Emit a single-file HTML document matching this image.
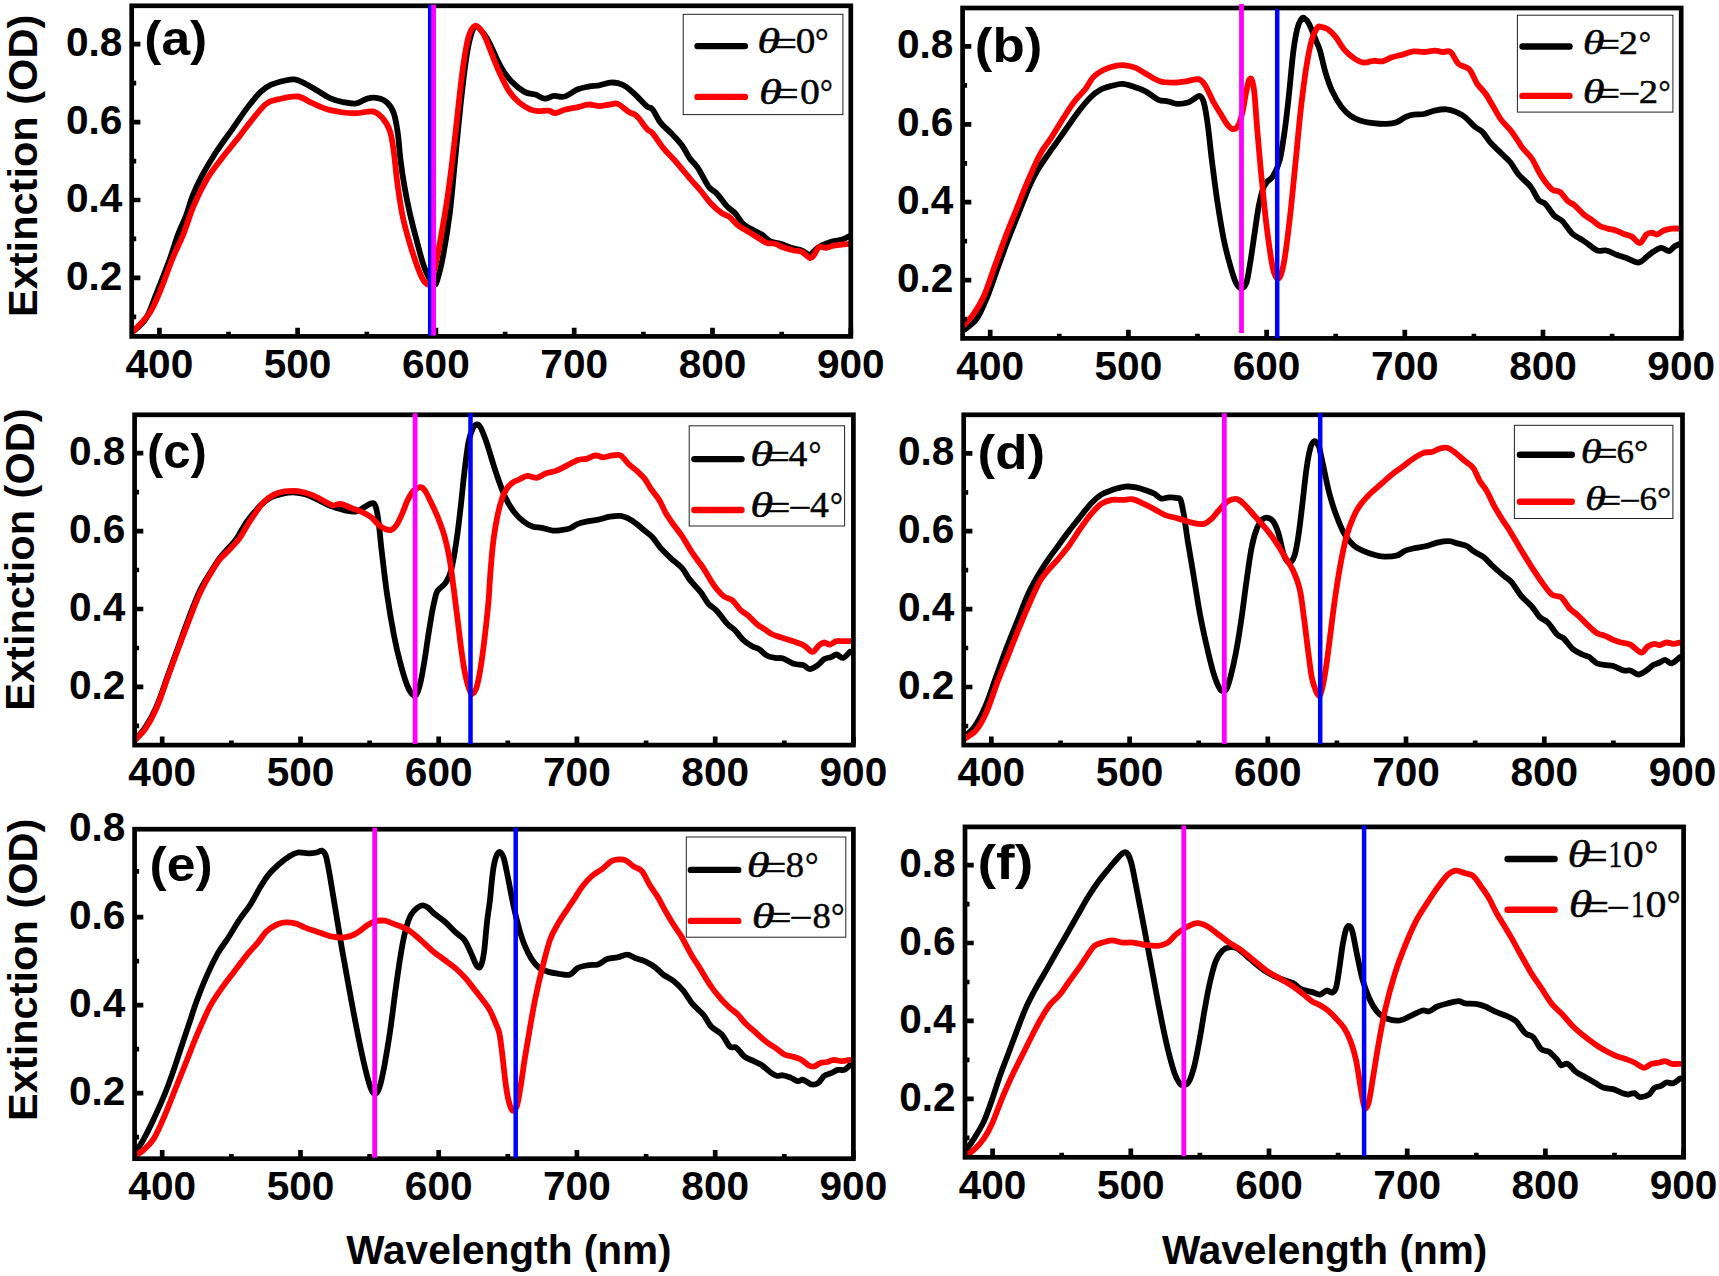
<!DOCTYPE html>
<html lang="en"><head><meta charset="utf-8"><title>Extinction spectra</title>
<style>html,body{margin:0;padding:0;background:#fff}svg{display:block}.t{font-family:"Liberation Sans", Arial, sans-serif;font-weight:bold;fill:#000}.s{font-family:"Liberation Serif", "Times New Roman", serif;fill:#000}.k{fill:none;stroke:#000;stroke-linejoin:round;stroke-linecap:round}.r{fill:none;stroke:#f00;stroke-linejoin:round;stroke-linecap:round}</style></head><body>
<svg width="1719" height="1276" viewBox="0 0 1719 1276">
<rect width="1719" height="1276" fill="#fff"/>
<g id="panel-a">
<clipPath id="cpa"><rect x="131.7" y="5.8" width="719.1" height="330.6"/></clipPath>
<g clip-path="url(#cpa)" stroke-width="5.8">
<path class="k" d="M131.3 333.1C133.8 330.6 141.8 325.1 146.0 318.4C150.2 311.8 152.6 303.1 156.6 293.1C160.6 283.1 166.4 268.2 170.0 258.5C173.5 248.7 175.3 241.6 178.0 234.5C180.6 227.4 183.5 222.3 186.0 215.8C188.4 209.4 190.0 202.5 192.6 195.9C195.3 189.2 198.2 183.0 201.9 175.9C205.7 168.8 210.4 160.8 215.3 153.2C220.2 145.7 225.9 138.1 231.3 130.6C236.6 123.0 242.4 114.4 247.2 107.9C252.1 101.5 256.6 95.8 260.6 91.9C264.6 88.1 267.2 86.6 271.2 84.7C275.2 82.9 280.8 81.6 284.6 80.7C288.3 79.9 290.8 79.1 293.9 79.4C297.0 79.7 299.4 80.8 303.2 82.6C307.0 84.4 312.1 87.5 316.5 90.1C321.0 92.6 325.4 96.1 329.9 98.1C334.3 100.1 338.7 101.2 343.2 102.1C347.6 102.9 352.5 104.0 356.5 103.4C360.5 102.8 363.6 99.5 367.2 98.6C370.7 97.7 374.5 97.4 377.8 98.1C381.1 98.7 384.5 100.1 387.1 102.6C389.8 105.1 392.0 108.1 393.8 113.2C395.6 118.4 396.7 125.5 397.8 133.2C398.9 141.0 399.4 151.0 400.5 159.9C401.6 168.8 402.9 177.6 404.5 186.5C406.0 195.4 407.8 204.3 409.8 213.2C411.8 222.1 414.2 231.4 416.5 239.8C418.7 248.3 420.9 257.1 423.1 263.8C425.3 270.5 428.0 276.4 429.8 279.8C431.6 283.2 432.6 284.1 433.8 284.3C435.0 284.5 435.4 285.9 437.0 281.1C438.5 276.4 441.0 267.1 443.1 255.8C445.2 244.5 447.8 229.2 449.8 213.2C451.8 197.2 453.3 177.6 455.1 159.9C456.9 142.1 458.6 123.0 460.4 106.6C462.2 90.2 464.0 73.3 465.8 61.3C467.5 49.3 469.3 40.4 471.1 34.6C472.9 28.9 474.2 26.6 476.4 26.6C478.6 26.6 482.1 31.8 484.4 34.6C486.7 37.5 487.3 38.6 490.0 44.0C492.7 49.3 497.1 60.4 500.7 66.6C504.2 72.8 507.3 77.1 511.3 81.3C515.3 85.5 520.6 89.7 524.6 91.9C528.6 94.2 532.0 93.5 535.3 94.6C538.6 95.7 541.5 98.4 544.6 98.6C547.7 98.8 550.6 96.3 554.0 95.9C557.3 95.6 560.6 97.6 564.6 96.5C568.6 95.4 573.9 90.9 577.9 89.3C581.9 87.6 585.0 87.3 588.6 86.6C592.1 85.9 595.7 85.9 599.3 85.3C602.8 84.6 606.8 83.0 609.9 82.6C613.0 82.3 615.2 82.5 617.9 83.1C620.6 83.8 622.8 84.5 625.9 86.6C629.0 88.7 633.0 92.6 636.6 95.9C640.1 99.3 644.6 104.4 647.2 106.6C649.9 108.8 650.3 106.6 652.5 109.3C654.8 111.9 657.4 118.6 660.5 122.6C663.6 126.6 667.6 129.5 671.2 133.2C674.8 137.0 678.7 141.0 681.9 145.2C685.0 149.4 687.2 154.8 689.9 158.5C692.5 162.3 694.7 163.2 697.8 167.9C701.0 172.5 705.4 182.3 708.5 186.5C711.6 190.7 713.4 189.9 716.5 193.2C719.6 196.5 724.0 203.2 727.2 206.5C730.3 209.8 732.5 210.3 735.2 213.2C737.8 216.1 740.0 220.9 743.1 223.8C746.3 226.7 750.7 228.7 753.8 230.5C756.9 232.3 759.1 232.7 761.8 234.5C764.5 236.3 766.7 239.6 769.8 241.2C772.9 242.7 776.9 242.7 780.5 243.8C784.0 244.9 787.6 246.7 791.1 247.8C794.7 248.9 798.7 249.4 801.8 250.5C804.9 251.6 807.1 254.9 809.8 254.5C812.4 254.0 815.1 249.6 817.8 247.8C820.4 246.0 823.1 244.9 825.8 243.8C828.4 242.7 831.1 241.8 833.7 241.2C836.4 240.5 839.0 240.7 841.7 239.8C844.4 238.9 848.6 236.5 850.0 235.8"/>
<path class="r" d="M131.3 333.1C134.2 330.0 144.0 321.1 148.7 314.4C153.3 307.8 155.3 302.4 159.3 293.1C163.3 283.8 168.6 268.2 172.6 258.5C176.6 248.7 179.7 243.4 183.3 234.5C186.8 225.6 190.0 214.5 194.0 205.2C197.9 195.9 202.8 186.1 207.3 178.5C211.7 171.0 215.7 166.3 220.6 159.9C225.5 153.4 231.7 146.1 236.6 139.9C241.5 133.7 245.0 128.6 249.9 122.6C254.8 116.6 261.0 107.8 265.9 103.9C270.8 100.0 273.9 100.4 279.2 99.1C284.6 97.9 292.5 95.9 297.9 96.5C303.2 97.0 306.3 100.5 311.2 102.6C316.1 104.7 321.9 107.6 327.2 109.3C332.5 110.9 338.3 111.8 343.2 112.5C348.1 113.1 351.6 113.4 356.5 113.2C361.4 113.1 368.3 110.7 372.5 111.4C376.7 112.1 378.9 114.0 381.8 117.2C384.7 120.4 387.8 124.8 389.8 130.6C391.8 136.3 392.5 142.6 393.8 151.9C395.1 161.2 396.2 175.4 397.8 186.5C399.4 197.6 400.9 208.3 403.1 218.5C405.4 228.7 408.2 238.5 411.1 247.8C414.0 257.1 417.8 268.4 420.5 274.5C423.1 280.5 425.4 283.4 427.1 284.3C428.8 285.2 429.2 282.8 430.6 279.8C431.9 276.8 433.5 273.1 435.1 266.5C436.8 259.8 438.4 250.9 440.4 239.8C442.4 228.7 445.1 213.2 447.1 199.9C449.1 186.5 450.7 174.5 452.4 159.9C454.2 145.2 456.0 127.5 457.8 111.9C459.5 96.4 461.3 79.1 463.1 66.6C464.9 54.2 466.4 44.1 468.4 37.3C470.4 30.5 472.6 26.5 475.1 25.8C477.5 25.2 480.6 29.4 483.1 33.3C485.6 37.2 487.5 43.3 490.0 49.3C492.5 55.3 494.9 62.4 498.0 69.3C501.1 76.2 505.1 85.0 508.7 90.6C512.2 96.2 515.8 99.5 519.3 102.6C522.9 105.7 526.9 107.8 530.0 109.3C533.1 110.7 534.9 110.9 538.0 111.1C541.1 111.3 545.7 110.2 548.6 110.6C551.5 110.9 552.6 113.4 555.3 113.2C557.9 113.1 560.8 110.8 564.6 109.8C568.4 108.8 573.9 108.0 577.9 107.1C581.9 106.2 585.0 104.6 588.6 104.5C592.1 104.3 595.7 106.1 599.3 106.1C602.8 106.1 606.8 104.8 609.9 104.5C613.0 104.1 614.8 102.7 617.9 103.9C621.0 105.2 625.5 109.9 628.6 111.9C631.7 113.9 633.4 113.0 636.6 115.9C639.7 118.8 644.6 126.4 647.2 129.2C649.9 132.1 649.9 130.1 652.5 133.2C655.2 136.3 659.2 143.0 663.2 147.9C667.2 152.8 672.1 157.4 676.5 162.5C681.0 167.7 685.9 173.9 689.9 178.5C693.8 183.2 697.0 186.3 700.5 190.5C704.1 194.7 707.6 200.1 711.2 203.8C714.7 207.6 718.7 211.0 721.8 213.2C724.9 215.4 727.2 215.2 729.8 217.2C732.5 219.2 734.7 222.7 737.8 225.2C740.9 227.6 744.9 229.6 748.5 231.8C752.0 234.0 756.0 236.6 759.1 238.5C762.2 240.4 764.5 242.1 767.1 243.0C769.8 243.9 772.5 243.1 775.1 243.8C777.8 244.5 780.0 246.2 783.1 247.3C786.2 248.4 790.7 249.7 793.8 250.5C796.9 251.2 799.1 250.6 801.8 251.8C804.4 253.1 807.8 257.4 809.8 257.9C811.8 258.5 812.2 257.1 813.8 255.3C815.3 253.5 817.1 248.5 819.1 247.3C821.1 246.0 823.3 248.1 825.8 247.8C828.2 247.5 831.1 246.2 833.7 245.7C836.4 245.2 839.0 244.9 841.7 244.6C844.4 244.3 848.6 244.0 850.0 243.8"/>
</g>
<path d="M159.4 336.4V327.7M297.6 336.4V327.7M435.9 336.4V327.7M574.2 336.4V327.7M712.5 336.4V327.7M850.8 336.4V327.7M228.5 336.4V331.8M366.8 336.4V331.8M505.1 336.4V331.8M643.4 336.4V331.8M781.7 336.4V331.8M131.7 277.9H140.4M131.7 200.0H140.4M131.7 122.1H140.4M131.7 44.2H140.4M131.7 316.9H136.2M131.7 238.9H136.2M131.7 161.1H136.2M131.7 83.2H136.2" stroke="#000" stroke-width="4.7" fill="none"/>
<rect x="131.7" y="5.8" width="719.1" height="330.6" fill="none" stroke="#000" stroke-width="4.7"/>
<path d="M430.2 4.7V335.4" stroke="#00f" stroke-width="4.5"/>
<path d="M433.6 4.7V335.4" stroke="#f0f" stroke-width="4.8"/>
<text class="t" x="159.4" y="377.7" font-size="40.6" text-anchor="middle">400</text>
<text class="t" x="297.6" y="377.7" font-size="40.6" text-anchor="middle">500</text>
<text class="t" x="435.9" y="377.7" font-size="40.6" text-anchor="middle">600</text>
<text class="t" x="574.2" y="377.7" font-size="40.6" text-anchor="middle">700</text>
<text class="t" x="712.5" y="377.7" font-size="40.6" text-anchor="middle">800</text>
<text class="t" x="850.8" y="377.7" font-size="40.6" text-anchor="middle">900</text>
<text class="t" x="122.4" y="289.7" font-size="40.6" text-anchor="end">0.2</text>
<text class="t" x="122.4" y="211.8" font-size="40.6" text-anchor="end">0.4</text>
<text class="t" x="122.4" y="133.9" font-size="40.6" text-anchor="end">0.6</text>
<text class="t" x="122.4" y="56.0" font-size="40.6" text-anchor="end">0.8</text>
<text class="t" font-size="48" transform="translate(144.28 54.9) scale(1.0741 1)">(a)</text>
<rect x="683.2" y="14.3" width="159.7" height="100.3" fill="#fff" stroke="#222" stroke-width="1"/>
<path class="k" d="M697.5 46.1H744.9" stroke-width="6.4"/>
<path class="r" d="M697.5 96.9H744.9" stroke-width="6.4"/>
<text class="s" font-size="36.0" stroke="#000" stroke-width="0.45"><tspan font-style="italic" x="757.37" y="53.2" textLength="22.93" lengthAdjust="spacingAndGlyphs">θ</tspan><tspan x="773.85" y="55.6" textLength="23.17" lengthAdjust="spacingAndGlyphs">=</tspan><tspan x="795.83" y="53.2" textLength="19.64" lengthAdjust="spacingAndGlyphs">0</tspan><tspan x="815.10" y="53.2" textLength="13.60" lengthAdjust="spacingAndGlyphs">°</tspan></text>
<text class="s" font-size="36.0" stroke="#000" stroke-width="0.45"><tspan font-style="italic" x="758.97" y="103.8" textLength="22.93" lengthAdjust="spacingAndGlyphs">θ</tspan><tspan x="775.45" y="106.2" textLength="23.17" lengthAdjust="spacingAndGlyphs">=</tspan><tspan x="800.01" y="103.8" textLength="19.88" lengthAdjust="spacingAndGlyphs">0</tspan><tspan x="819.90" y="103.8" textLength="12.80" lengthAdjust="spacingAndGlyphs">°</tspan></text>
</g>
</g>
<g id="panel-b">
<clipPath id="cpb"><rect x="962.6" y="8.0" width="718.6" height="330.4"/></clipPath>
<g clip-path="url(#cpb)" stroke-width="5.8">
<path class="k" d="M961.3 331.8C963.8 329.8 971.8 325.3 976.0 319.8C980.2 314.2 983.1 306.9 986.6 298.4C990.2 290.0 993.8 278.9 997.3 269.1C1000.9 259.4 1004.4 249.1 1008.0 239.8C1011.5 230.5 1015.1 222.1 1018.6 213.2C1022.2 204.3 1026.2 193.6 1029.3 186.5C1032.4 179.4 1034.2 175.9 1037.3 170.5C1040.4 165.2 1043.9 160.3 1047.9 154.6C1051.9 148.8 1056.4 142.8 1061.3 135.9C1066.1 129.0 1072.4 119.7 1077.2 113.2C1082.1 106.8 1086.6 101.3 1090.6 97.3C1094.6 93.3 1097.7 91.2 1101.2 89.3C1104.8 87.4 1108.3 86.7 1111.9 85.8C1115.4 84.9 1119.0 83.8 1122.5 83.9C1126.1 84.1 1129.2 85.3 1133.2 86.6C1137.2 87.9 1142.3 89.7 1146.5 91.9C1150.7 94.2 1155.0 98.4 1158.5 99.9C1162.1 101.5 1164.7 100.6 1167.8 101.3C1171.0 101.9 1173.8 103.7 1177.2 103.9C1180.5 104.1 1184.9 103.5 1187.8 102.6C1190.7 101.7 1192.5 99.7 1194.5 98.6C1196.5 97.5 1198.3 95.3 1199.8 95.9C1201.4 96.6 1202.5 97.7 1203.8 102.6C1205.2 107.5 1206.5 115.7 1207.8 125.2C1209.1 134.8 1210.3 147.4 1211.8 159.9C1213.4 172.3 1215.1 186.5 1217.1 199.9C1219.1 213.2 1221.6 228.7 1223.8 239.8C1226.0 250.9 1228.5 259.4 1230.5 266.5C1232.5 273.6 1234.0 278.8 1235.8 282.5C1237.6 286.1 1239.3 288.3 1241.1 288.3C1242.9 288.3 1244.9 287.0 1246.5 282.5C1248.0 277.9 1249.1 269.1 1250.5 261.1C1251.8 253.1 1253.1 243.4 1254.4 234.5C1255.8 225.6 1257.1 215.2 1258.4 207.8C1259.8 200.5 1261.1 194.7 1262.4 190.5C1263.8 186.3 1264.7 185.0 1266.4 182.5C1268.2 180.1 1270.9 179.6 1273.1 175.9C1275.3 172.1 1277.8 167.9 1279.8 159.9C1281.8 151.9 1283.5 139.0 1285.1 127.9C1286.6 116.8 1287.8 105.7 1289.1 93.3C1290.4 80.8 1291.8 64.0 1293.1 53.3C1294.4 42.6 1295.8 35.0 1297.1 29.3C1298.4 23.6 1299.9 21.1 1301.1 19.2C1302.3 17.3 1302.9 17.3 1304.3 18.1C1305.6 18.9 1307.2 20.3 1309.1 24.0C1311.0 27.6 1313.9 35.5 1315.7 40.0C1317.6 44.4 1318.4 45.3 1320.0 50.6C1321.6 56.0 1323.3 65.3 1325.3 71.9C1327.3 78.6 1329.3 84.8 1332.0 90.6C1334.7 96.4 1338.2 102.4 1341.3 106.6C1344.4 110.8 1347.5 113.6 1350.6 115.9C1353.8 118.2 1356.2 119.2 1360.0 120.4C1363.7 121.6 1368.9 122.5 1373.3 123.1C1377.7 123.7 1382.8 124.0 1386.6 123.9C1390.4 123.8 1392.8 123.7 1395.9 122.6C1399.1 121.5 1402.4 118.6 1405.3 117.2C1408.2 115.9 1410.2 115.1 1413.3 114.6C1416.4 114.0 1420.4 114.7 1423.9 114.0C1427.5 113.4 1430.8 111.4 1434.6 110.6C1438.4 109.8 1443.0 109.0 1446.6 109.3C1450.1 109.5 1452.8 110.6 1455.9 111.9C1459.0 113.2 1462.1 114.8 1465.2 117.2C1468.3 119.7 1471.7 124.1 1474.6 126.6C1477.4 129.0 1479.9 129.2 1482.5 131.9C1485.2 134.6 1487.4 139.0 1490.5 142.6C1493.6 146.1 1497.9 149.9 1501.2 153.2C1504.5 156.6 1507.6 159.0 1510.5 162.5C1513.4 166.1 1515.2 170.5 1518.5 174.5C1521.9 178.5 1527.2 182.3 1530.5 186.5C1533.8 190.7 1536.1 197.0 1538.5 199.9C1540.9 202.7 1542.5 201.2 1545.2 203.8C1547.8 206.5 1551.6 213.0 1554.5 215.8C1557.4 218.7 1559.6 218.3 1562.5 221.2C1565.4 224.1 1568.9 230.3 1571.8 233.2C1574.7 236.0 1577.1 236.7 1579.8 238.5C1582.5 240.3 1584.9 241.8 1587.8 243.8C1590.7 245.8 1594.0 249.4 1597.1 250.5C1600.2 251.6 1603.3 249.8 1606.5 250.5C1609.6 251.1 1612.5 253.2 1615.8 254.5C1619.1 255.7 1622.7 256.6 1626.4 257.9C1630.2 259.3 1635.1 262.6 1638.4 262.5C1641.8 262.3 1644.0 258.9 1646.4 257.1C1648.9 255.4 1650.6 253.4 1653.1 251.8C1655.5 250.3 1658.4 247.9 1661.1 247.8C1663.7 247.7 1666.9 251.2 1669.1 251.0C1671.3 250.8 1672.6 247.7 1674.4 246.5C1676.2 245.3 1679.1 244.3 1680.0 243.8"/>
<path class="r" d="M961.3 327.8C963.3 325.5 969.5 319.8 973.3 314.4C977.1 309.1 980.4 303.8 984.0 295.8C987.5 287.8 991.1 276.2 994.6 266.5C998.2 256.7 1001.7 246.5 1005.3 237.2C1008.9 227.8 1012.4 219.4 1016.0 210.5C1019.5 201.6 1022.6 193.2 1026.6 183.9C1030.6 174.5 1035.9 162.1 1039.9 154.6C1043.9 147.0 1046.6 144.8 1050.6 138.6C1054.6 132.3 1059.9 123.5 1063.9 117.2C1067.9 111.0 1071.0 105.9 1074.6 101.3C1078.1 96.6 1082.1 93.3 1085.2 89.3C1088.3 85.3 1090.1 80.5 1093.2 77.3C1096.3 74.0 1100.3 71.7 1103.9 69.8C1107.4 67.9 1111.0 66.8 1114.6 66.1C1118.1 65.3 1121.7 65.0 1125.2 65.3C1128.8 65.6 1132.3 66.5 1135.9 67.9C1139.4 69.4 1142.5 71.9 1146.5 74.1C1150.5 76.3 1155.4 79.9 1159.9 81.3C1164.3 82.7 1168.7 82.6 1173.2 82.6C1177.6 82.6 1182.3 81.9 1186.5 81.3C1190.7 80.7 1195.4 78.5 1198.5 79.1C1201.6 79.8 1202.7 81.6 1205.2 85.3C1207.6 89.0 1210.5 96.4 1213.1 101.3C1215.8 106.1 1218.7 110.6 1221.1 114.6C1223.6 118.6 1225.8 122.8 1227.8 125.2C1229.8 127.7 1231.4 129.2 1233.1 129.2C1234.9 129.2 1236.9 128.1 1238.5 125.2C1240.0 122.4 1241.1 117.7 1242.5 111.9C1243.8 106.1 1245.3 95.9 1246.5 90.6C1247.6 85.3 1248.2 81.7 1249.1 79.9C1250.0 78.2 1250.9 77.7 1251.8 79.9C1252.7 82.2 1253.6 85.3 1254.4 93.3C1255.3 101.3 1256.0 114.6 1257.1 127.9C1258.2 141.2 1259.8 159.0 1261.1 173.2C1262.4 187.4 1263.8 201.2 1265.1 213.2C1266.4 225.2 1267.8 235.8 1269.1 245.2C1270.4 254.5 1271.8 263.6 1273.1 269.1C1274.4 274.7 1275.8 277.6 1277.1 278.5C1278.4 279.3 1279.8 278.2 1281.1 274.5C1282.4 270.7 1283.5 266.0 1285.1 255.8C1286.6 245.6 1288.6 229.2 1290.4 213.2C1292.2 197.2 1294.0 177.6 1295.8 159.9C1297.5 142.1 1299.3 122.1 1301.1 106.6C1302.9 91.0 1304.6 77.7 1306.4 66.6C1308.2 55.5 1310.0 46.4 1311.7 40.0C1313.5 33.5 1315.7 30.2 1317.1 28.0C1318.4 25.8 1318.2 26.4 1320.0 26.6C1321.8 26.9 1325.3 27.5 1328.0 29.3C1330.7 31.1 1333.3 34.0 1336.0 37.3C1338.7 40.6 1340.9 45.7 1344.0 49.3C1347.1 52.8 1351.3 56.4 1354.6 58.6C1358.0 60.8 1360.9 62.3 1364.0 62.6C1367.1 63.0 1370.2 61.0 1373.3 60.8C1376.4 60.5 1379.5 61.9 1382.6 61.3C1385.7 60.7 1388.6 58.4 1391.9 57.3C1395.3 56.2 1399.1 55.6 1402.6 54.6C1406.2 53.6 1409.7 51.9 1413.3 51.4C1416.8 51.0 1420.4 52.1 1423.9 52.0C1427.5 51.8 1431.5 50.6 1434.6 50.6C1437.7 50.6 1439.9 51.7 1442.6 52.0C1445.2 52.2 1447.9 50.0 1450.6 52.0C1453.2 54.0 1455.5 61.1 1458.6 64.0C1461.7 66.8 1466.1 66.0 1469.2 69.3C1472.3 72.6 1474.6 79.9 1477.2 83.9C1479.9 87.9 1482.5 89.5 1485.2 93.3C1487.9 97.0 1490.5 102.1 1493.2 106.6C1495.9 111.0 1498.1 115.7 1501.2 119.9C1504.3 124.1 1508.3 127.2 1511.9 131.9C1515.4 136.6 1519.2 143.4 1522.5 147.9C1525.8 152.3 1528.7 153.9 1531.8 158.5C1535.0 163.2 1537.8 170.8 1541.2 175.9C1544.5 181.0 1548.7 186.5 1551.8 189.2C1554.9 191.9 1557.2 189.9 1559.8 191.9C1562.5 193.9 1565.4 199.0 1567.8 201.2C1570.3 203.4 1571.8 203.0 1574.5 205.2C1577.1 207.4 1580.9 212.1 1583.8 214.5C1586.7 217.0 1589.1 217.9 1591.8 219.8C1594.5 221.7 1597.1 224.5 1599.8 226.0C1602.5 227.4 1605.1 227.9 1607.8 228.6C1610.5 229.4 1613.1 229.6 1615.8 230.5C1618.4 231.4 1621.1 232.9 1623.8 234.0C1626.4 235.0 1629.1 235.1 1631.8 236.6C1634.4 238.1 1637.3 243.4 1639.8 243.0C1642.2 242.7 1644.4 236.2 1646.4 234.5C1648.4 232.8 1650.0 232.6 1651.8 232.6C1653.5 232.6 1655.1 234.8 1657.1 234.5C1659.1 234.1 1661.3 231.5 1663.7 230.5C1666.2 229.5 1669.0 228.9 1671.7 228.6C1674.4 228.3 1678.6 228.6 1680.0 228.6"/>
</g>
<path d="M990.2 338.4V329.7M1128.4 338.4V329.7M1266.6 338.4V329.7M1404.8 338.4V329.7M1543.0 338.4V329.7M1681.2 338.4V329.7M1059.3 338.4V333.8M1197.5 338.4V333.8M1335.7 338.4V333.8M1473.9 338.4V333.8M1612.1 338.4V333.8M962.6 280.1H971.3M962.6 202.2H971.3M962.6 124.3H971.3M962.6 46.4H971.3M962.6 319.1H967.1M962.6 241.2H967.1M962.6 163.3H967.1M962.6 85.4H967.1" stroke="#000" stroke-width="4.7" fill="none"/>
<rect x="962.6" y="8.0" width="718.6" height="330.4" fill="none" stroke="#000" stroke-width="4.7"/>
<path d="M1241.5 4.0V333.0" stroke="#f0f" stroke-width="4.8"/>
<path d="M1277.2 9.3V338.0" stroke="#00f" stroke-width="4.5"/>
<text class="t" x="990.2" y="379.7" font-size="40.6" text-anchor="middle">400</text>
<text class="t" x="1128.4" y="379.7" font-size="40.6" text-anchor="middle">500</text>
<text class="t" x="1266.6" y="379.7" font-size="40.6" text-anchor="middle">600</text>
<text class="t" x="1404.8" y="379.7" font-size="40.6" text-anchor="middle">700</text>
<text class="t" x="1543.0" y="379.7" font-size="40.6" text-anchor="middle">800</text>
<text class="t" x="1681.2" y="379.7" font-size="40.6" text-anchor="middle">900</text>
<text class="t" x="953.3" y="291.9" font-size="40.6" text-anchor="end">0.2</text>
<text class="t" x="953.3" y="214.0" font-size="40.6" text-anchor="end">0.4</text>
<text class="t" x="953.3" y="136.1" font-size="40.6" text-anchor="end">0.6</text>
<text class="t" x="953.3" y="58.2" font-size="40.6" text-anchor="end">0.8</text>
<text class="t" font-size="48" transform="translate(974.81 62.0) scale(1.1000 1)">(b)</text>
<rect x="1517.4" y="15.2" width="155.5" height="96.9" fill="#fff" stroke="#222" stroke-width="1"/>
<path class="k" d="M1522.5 46.5H1569.5" stroke-width="6.4"/>
<path class="r" d="M1522.5 95.9H1569.5" stroke-width="6.4"/>
<text class="s" font-size="34.5" stroke="#000" stroke-width="0.45"><tspan font-style="italic" x="1582.79" y="53.7" textLength="21.76" lengthAdjust="spacingAndGlyphs">θ</tspan><tspan x="1598.82" y="56.1" textLength="21.23" lengthAdjust="spacingAndGlyphs">=</tspan><tspan x="1618.87" y="53.7" textLength="19.25" lengthAdjust="spacingAndGlyphs">2</tspan><tspan x="1638.87" y="53.7" textLength="12.27" lengthAdjust="spacingAndGlyphs">°</tspan></text>
<text class="s" font-size="34.5" stroke="#000" stroke-width="0.45"><tspan font-style="italic" x="1582.79" y="102.9" textLength="21.76" lengthAdjust="spacingAndGlyphs">θ</tspan><tspan x="1598.82" y="105.3" textLength="21.23" lengthAdjust="spacingAndGlyphs">=</tspan><tspan x="1618.16" y="105.3" textLength="21.83" lengthAdjust="spacingAndGlyphs">−</tspan><tspan x="1638.66" y="102.9" textLength="19.37" lengthAdjust="spacingAndGlyphs">2</tspan><tspan x="1658.38" y="102.9" textLength="12.13" lengthAdjust="spacingAndGlyphs">°</tspan></text>
</g>
</g>
<g id="panel-c">
<clipPath id="cpc"><rect x="134.6" y="414.8" width="718.8" height="330.3"/></clipPath>
<g clip-path="url(#cpc)" stroke-width="5.8">
<path class="k" d="M135.3 739.8C137.1 737.5 142.4 732.0 146.0 726.4C149.5 720.9 153.1 714.7 156.6 706.4C160.2 698.2 163.8 686.9 167.3 677.1C170.9 667.4 174.4 657.6 178.0 647.8C181.5 638.1 185.1 627.8 188.6 618.5C192.2 609.2 195.7 599.4 199.3 591.9C202.8 584.3 206.6 578.8 209.9 573.2C213.3 567.7 216.2 562.8 219.3 558.6C222.4 554.3 225.7 551.2 228.6 547.9C231.5 544.6 233.5 543.0 236.6 538.6C239.7 534.1 243.2 526.8 247.2 521.2C251.2 515.7 256.6 509.3 260.6 505.3C264.6 501.3 267.7 499.2 271.2 497.3C274.8 495.4 277.9 494.6 281.9 493.8C285.9 493.0 291.2 492.3 295.2 492.5C299.2 492.6 302.3 493.5 305.9 494.6C309.4 495.7 313.0 497.5 316.5 499.1C320.1 500.8 323.9 503.0 327.2 504.5C330.5 505.9 333.4 506.9 336.5 507.9C339.6 508.9 342.5 510.0 345.8 510.6C349.2 511.2 353.4 512.0 356.5 511.4C359.6 510.8 362.1 508.5 364.5 507.1C366.9 505.8 369.4 503.7 371.2 503.4C372.9 503.1 374.0 502.5 375.2 505.3C376.4 508.0 377.2 512.1 378.3 519.9C379.5 527.7 380.3 539.5 381.8 551.9C383.3 564.3 385.1 580.8 387.1 594.5C389.1 608.3 391.6 623.0 393.8 634.5C396.0 646.0 398.2 655.4 400.5 663.8C402.7 672.2 405.1 680.0 407.1 685.1C409.1 690.2 410.9 692.9 412.5 694.5C414.0 696.0 415.1 696.5 416.5 694.5C417.8 692.5 419.1 688.0 420.5 682.5C421.8 676.9 423.1 669.1 424.4 661.1C425.8 653.2 427.1 642.9 428.4 634.5C429.8 626.1 431.1 617.4 432.4 610.5C433.8 603.6 435.1 597.0 436.4 593.2C437.8 589.4 438.9 589.6 440.4 587.9C442.0 586.1 444.0 585.4 445.8 582.5C447.5 579.7 449.3 577.4 451.1 570.5C452.9 563.7 454.9 551.4 456.4 541.2C458.0 531.0 459.1 520.8 460.4 509.3C461.8 497.7 463.1 483.1 464.4 472.0C465.8 460.8 467.1 449.7 468.4 442.6C469.7 435.5 471.1 432.3 472.4 429.3C473.7 426.3 475.1 424.9 476.4 424.5C477.7 424.2 478.9 424.6 480.4 427.2C482.0 429.8 484.1 435.6 485.7 440.0C487.3 444.3 488.2 447.5 490.0 453.3C491.8 459.1 494.2 467.5 496.7 474.6C499.1 481.7 501.8 489.7 504.7 495.9C507.5 502.2 510.9 507.7 514.0 511.9C517.1 516.1 520.2 518.8 523.3 521.2C526.4 523.7 529.5 525.5 532.6 526.6C535.7 527.7 538.6 527.2 542.0 527.9C545.3 528.6 549.3 530.2 552.6 530.6C556.0 530.9 559.1 530.4 561.9 530.0C564.8 529.7 567.3 529.5 569.9 528.4C572.6 527.4 574.8 525.1 577.9 523.9C581.0 522.7 585.0 522.0 588.6 521.2C592.1 520.5 595.7 520.1 599.3 519.4C602.8 518.6 606.4 517.3 609.9 516.7C613.5 516.1 617.5 515.6 620.6 515.9C623.7 516.2 625.9 517.3 628.6 518.6C631.2 519.9 633.9 521.9 636.6 523.9C639.2 525.9 641.9 528.4 644.6 530.6C647.2 532.8 649.9 534.4 652.5 537.2C655.2 540.1 657.4 544.3 660.5 547.9C663.6 551.4 667.6 555.2 671.2 558.6C674.8 561.9 678.7 564.3 681.9 567.9C685.0 571.4 686.7 575.9 689.9 579.9C693.0 583.9 697.4 587.9 700.5 591.9C703.6 595.9 705.8 600.7 708.5 603.9C711.2 607.0 713.4 607.2 716.5 610.5C719.6 613.8 724.0 620.5 727.2 623.8C730.3 627.2 732.5 627.8 735.2 630.5C737.8 633.2 740.3 637.2 743.1 639.8C746.0 642.5 749.8 644.9 752.5 646.5C755.1 648.0 756.7 647.6 759.1 649.2C761.6 650.7 764.5 654.4 767.1 655.8C769.8 657.3 772.5 657.5 775.1 657.9C777.8 658.4 780.0 657.5 783.1 658.5C786.2 659.5 790.4 662.7 793.8 663.8C797.1 664.9 800.4 664.3 803.1 665.1C805.8 666.0 807.3 669.1 809.8 669.1C812.2 669.1 815.3 666.8 817.8 665.1C820.2 663.5 822.2 660.3 824.4 659.0C826.6 657.7 829.1 657.9 831.1 657.1C833.1 656.4 834.4 654.4 836.4 654.5C838.4 654.6 840.8 658.4 843.1 657.9C845.3 657.5 848.8 652.8 850.0 651.8"/>
<path class="r" d="M135.3 739.8C137.1 737.8 142.4 733.1 146.0 727.8C149.5 722.4 153.1 716.0 156.6 707.8C160.2 699.6 163.8 688.2 167.3 678.5C170.9 668.7 174.4 658.7 178.0 649.2C181.5 639.6 185.1 630.3 188.6 621.2C192.2 612.1 195.7 602.3 199.3 594.5C202.8 586.8 206.6 580.3 209.9 574.5C213.3 568.8 216.2 563.9 219.3 559.9C222.4 555.9 225.3 554.1 228.6 550.6C231.9 547.0 235.7 543.5 239.3 538.6C242.8 533.7 245.9 527.2 249.9 521.2C253.9 515.3 259.2 507.0 263.2 502.6C267.2 498.2 270.3 496.5 273.9 494.6C277.4 492.7 280.6 492.0 284.6 491.4C288.5 490.8 293.4 490.6 297.9 491.1C302.3 491.7 306.8 492.9 311.2 494.6C315.6 496.3 321.0 499.5 324.5 501.3C328.1 503.0 329.9 504.8 332.5 505.3C335.2 505.7 337.4 503.5 340.5 503.9C343.6 504.4 347.6 506.6 351.2 507.9C354.7 509.3 358.5 510.4 361.8 511.9C365.2 513.5 368.3 515.0 371.2 517.3C374.0 519.5 376.7 523.2 379.1 525.2C381.6 527.2 383.8 528.4 385.8 529.2C387.8 530.0 389.4 530.7 391.1 530.0C392.9 529.4 394.7 527.8 396.5 525.2C398.2 522.7 400.0 518.6 401.8 514.6C403.6 510.6 405.4 505.0 407.1 501.3C408.9 497.5 410.7 494.2 412.5 491.9C414.2 489.7 416.2 488.7 417.8 487.9C419.3 487.2 420.5 486.7 421.8 487.4C423.1 488.1 424.2 489.4 425.8 491.9C427.3 494.5 429.1 498.4 431.1 502.6C433.1 506.8 435.6 511.7 437.8 517.3C440.0 522.8 442.4 528.8 444.4 535.9C446.4 543.0 448.2 551.0 449.8 559.9C451.3 568.8 452.4 579.0 453.8 589.2C455.1 599.4 456.4 610.5 457.8 621.2C459.1 631.8 460.4 643.8 461.8 653.2C463.1 662.5 464.4 670.9 465.8 677.1C467.1 683.4 468.6 687.7 469.7 690.5C470.9 693.2 471.3 694.1 472.4 693.7C473.5 693.2 475.1 691.9 476.4 687.8C477.7 683.7 479.1 677.1 480.4 669.1C481.7 661.1 483.1 650.9 484.4 639.8C485.7 628.7 487.5 612.7 488.4 602.5C489.3 592.3 489.3 587.9 490.0 578.5C490.7 569.2 491.6 556.3 492.7 546.6C493.8 536.8 495.1 527.9 496.7 519.9C498.2 511.9 500.2 503.9 502.0 498.6C503.8 493.3 505.5 490.6 507.3 487.9C509.1 485.3 510.7 484.0 512.6 482.6C514.6 481.2 516.9 480.5 519.3 479.4C521.8 478.3 524.4 476.2 527.3 475.9C530.2 475.7 533.5 478.3 536.6 477.8C539.7 477.4 542.6 474.5 546.0 473.3C549.3 472.1 553.1 472.0 556.6 470.6C560.2 469.3 563.7 467.1 567.3 465.3C570.8 463.5 574.6 461.1 577.9 460.0C581.3 458.9 584.4 459.4 587.3 458.6C590.1 457.9 592.6 455.7 595.3 455.4C597.9 455.2 600.4 457.3 603.2 457.3C606.1 457.3 609.7 455.7 612.6 455.4C615.5 455.1 617.9 454.0 620.6 455.4C623.2 456.9 625.9 461.4 628.6 464.0C631.2 466.5 633.9 468.2 636.6 470.6C639.2 473.1 642.1 475.5 644.6 478.6C647.0 481.7 648.8 485.7 651.2 489.3C653.7 492.8 656.8 495.9 659.2 499.9C661.7 503.9 663.4 509.0 665.9 513.3C668.3 517.5 671.2 521.5 673.9 525.2C676.5 529.0 678.7 531.2 681.9 535.9C685.0 540.6 689.0 547.9 692.5 553.2C696.1 558.6 699.6 562.6 703.2 567.9C706.7 573.2 710.5 580.5 713.8 585.2C717.2 589.9 720.1 593.3 723.2 595.9C726.3 598.4 729.6 598.0 732.5 600.4C735.4 602.7 737.8 607.4 740.5 610.0C743.1 612.6 745.8 613.5 748.5 615.8C751.1 618.2 753.8 621.6 756.5 623.8C759.1 626.1 761.8 627.4 764.5 629.2C767.1 630.9 769.8 633.2 772.5 634.5C775.1 635.8 777.8 636.3 780.5 637.2C783.1 638.1 785.8 638.9 788.4 639.8C791.1 640.7 793.8 641.5 796.4 642.5C799.1 643.5 801.8 644.1 804.4 645.7C807.1 647.2 810.0 651.9 812.4 651.8C814.9 651.7 817.1 646.7 819.1 645.2C821.1 643.6 822.6 642.6 824.4 642.5C826.2 642.4 827.7 644.8 829.7 644.6C831.7 644.4 834.2 641.7 836.4 641.2C838.6 640.6 840.8 641.2 843.1 641.2C845.3 641.2 848.8 641.2 850.0 641.2"/>
</g>
<path d="M162.2 745.1V736.4M300.5 745.1V736.4M438.7 745.1V736.4M576.9 745.1V736.4M715.2 745.1V736.4M853.4 745.1V736.4M231.4 745.1V740.5M369.6 745.1V740.5M507.8 745.1V740.5M646.1 745.1V740.5M784.3 745.1V740.5M134.6 686.9H143.3M134.6 609.0H143.3M134.6 531.1H143.3M134.6 453.2H143.3M134.6 725.9H139.1M134.6 648.0H139.1M134.6 570.0H139.1M134.6 492.2H139.1" stroke="#000" stroke-width="4.7" fill="none"/>
<rect x="134.6" y="414.8" width="718.8" height="330.3" fill="none" stroke="#000" stroke-width="4.7"/>
<path d="M415.1 413.3V744.1" stroke="#f0f" stroke-width="4.8"/>
<path d="M470.5 413.3V744.1" stroke="#00f" stroke-width="4.5"/>
<text class="t" x="162.2" y="786.4" font-size="40.6" text-anchor="middle">400</text>
<text class="t" x="300.5" y="786.4" font-size="40.6" text-anchor="middle">500</text>
<text class="t" x="438.7" y="786.4" font-size="40.6" text-anchor="middle">600</text>
<text class="t" x="576.9" y="786.4" font-size="40.6" text-anchor="middle">700</text>
<text class="t" x="715.2" y="786.4" font-size="40.6" text-anchor="middle">800</text>
<text class="t" x="853.4" y="786.4" font-size="40.6" text-anchor="middle">900</text>
<text class="t" x="125.3" y="698.7" font-size="40.6" text-anchor="end">0.2</text>
<text class="t" x="125.3" y="620.8" font-size="40.6" text-anchor="end">0.4</text>
<text class="t" x="125.3" y="542.9" font-size="40.6" text-anchor="end">0.6</text>
<text class="t" x="125.3" y="465.0" font-size="40.6" text-anchor="end">0.8</text>
<text class="t" font-size="48" transform="translate(146.90 467.6) scale(1.0222 1)">(c)</text>
<rect x="689.2" y="425.8" width="155.4" height="100.2" fill="#fff" stroke="#222" stroke-width="1"/>
<path class="k" d="M694.4 459.1H741.5" stroke-width="6.4"/>
<path class="r" d="M694.4 510.0H741.5" stroke-width="6.4"/>
<text class="s" font-size="36.5" stroke="#000" stroke-width="0.45"><tspan font-style="italic" x="750.37" y="466.3" textLength="22.93" lengthAdjust="spacingAndGlyphs">θ</tspan><tspan x="766.85" y="468.7" textLength="23.17" lengthAdjust="spacingAndGlyphs">=</tspan><tspan x="788.55" y="466.3" textLength="18.82" lengthAdjust="spacingAndGlyphs">4</tspan><tspan x="808.58" y="466.3" textLength="12.93" lengthAdjust="spacingAndGlyphs">°</tspan></text>
<text class="s" font-size="36.5" stroke="#000" stroke-width="0.45"><tspan font-style="italic" x="750.37" y="517.1" textLength="22.93" lengthAdjust="spacingAndGlyphs">θ</tspan><tspan x="766.79" y="519.5" textLength="23.78" lengthAdjust="spacingAndGlyphs">=</tspan><tspan x="788.36" y="519.5" textLength="23.05" lengthAdjust="spacingAndGlyphs">−</tspan><tspan x="810.05" y="517.1" textLength="18.82" lengthAdjust="spacingAndGlyphs">4</tspan><tspan x="830.08" y="517.1" textLength="12.93" lengthAdjust="spacingAndGlyphs">°</tspan></text>
</g>
</g>
<g id="panel-d">
<clipPath id="cpd"><rect x="963.7" y="414.8" width="718.8" height="330.3"/></clipPath>
<g clip-path="url(#cpd)" stroke-width="5.8">
<path class="k" d="M962.7 738.4C964.7 736.4 970.9 731.8 974.7 726.4C978.4 721.1 981.8 714.7 985.3 706.4C988.9 698.2 992.4 686.9 996.0 677.1C999.5 667.4 1003.1 657.1 1006.6 647.8C1010.2 638.5 1013.7 630.1 1017.3 621.2C1020.8 612.3 1024.4 602.3 1027.9 594.5C1031.5 586.8 1035.3 580.3 1038.6 574.5C1041.9 568.8 1044.6 564.8 1047.9 559.9C1051.3 555.0 1055.0 550.1 1058.6 545.2C1062.1 540.3 1065.7 535.2 1069.3 530.6C1072.8 525.9 1076.4 521.7 1079.9 517.3C1083.5 512.8 1087.0 507.7 1090.6 503.9C1094.1 500.2 1097.7 496.9 1101.2 494.6C1104.8 492.3 1107.9 491.4 1111.9 490.1C1115.9 488.7 1121.2 487.1 1125.2 486.6C1129.2 486.2 1132.3 486.7 1135.9 487.4C1139.4 488.1 1143.4 489.5 1146.5 490.6C1149.6 491.7 1152.1 492.5 1154.5 493.8C1157.0 495.1 1158.7 498.0 1161.2 498.6C1163.6 499.2 1166.5 497.4 1169.2 497.3C1171.8 497.2 1175.3 497.6 1177.2 498.1C1179.1 498.5 1179.5 497.2 1180.6 499.9C1181.7 502.7 1182.6 507.7 1183.8 514.6C1185.0 521.5 1186.3 531.5 1187.8 541.2C1189.4 551.0 1191.2 561.2 1193.2 573.2C1195.2 585.2 1197.6 601.2 1199.8 613.2C1202.0 625.2 1204.3 635.4 1206.5 645.2C1208.7 654.9 1211.1 664.9 1213.1 671.8C1215.1 678.7 1216.9 683.3 1218.5 686.5C1220.0 689.7 1221.1 690.5 1222.5 691.0C1223.8 691.4 1225.1 691.4 1226.5 689.1C1227.8 686.8 1228.9 683.1 1230.5 677.1C1232.0 671.1 1234.0 662.5 1235.8 653.2C1237.6 643.8 1239.3 633.2 1241.1 621.2C1242.9 609.2 1244.7 593.6 1246.5 581.2C1248.2 568.8 1250.0 555.4 1251.8 546.6C1253.6 537.7 1255.3 532.4 1257.1 527.9C1258.9 523.4 1260.7 521.1 1262.4 519.4C1264.2 517.7 1266.0 517.5 1267.8 517.8C1269.5 518.1 1271.3 518.7 1273.1 521.2C1274.9 523.8 1276.7 527.7 1278.4 533.2C1280.2 538.8 1282.0 549.7 1283.8 554.6C1285.5 559.4 1287.3 562.3 1289.1 562.6C1290.9 562.8 1292.9 560.3 1294.4 555.9C1296.0 551.4 1297.1 544.6 1298.4 535.9C1299.7 527.2 1301.1 515.0 1302.4 503.9C1303.7 492.8 1305.1 478.6 1306.4 469.3C1307.7 460.0 1309.1 452.6 1310.4 448.0C1311.7 443.3 1313.1 441.8 1314.4 441.3C1315.7 440.9 1317.5 443.8 1318.4 445.3C1319.3 446.9 1319.1 446.6 1320.0 450.6C1320.9 454.6 1322.4 462.2 1324.0 469.3C1325.6 476.4 1327.3 485.7 1329.3 493.3C1331.3 500.8 1333.5 507.9 1336.0 514.6C1338.4 521.2 1341.1 528.1 1344.0 533.2C1346.9 538.3 1350.2 542.3 1353.3 545.2C1356.4 548.1 1359.3 549.0 1362.6 550.6C1366.0 552.1 1369.7 553.5 1373.3 554.6C1376.8 555.6 1380.0 556.6 1384.0 556.7C1387.9 556.8 1393.7 556.4 1397.3 555.4C1400.8 554.3 1402.2 551.8 1405.3 550.6C1408.4 549.3 1412.4 548.7 1415.9 547.9C1419.5 547.1 1423.0 546.9 1426.6 546.0C1430.1 545.1 1433.5 543.4 1437.2 542.6C1441.0 541.8 1445.9 541.1 1449.2 541.2C1452.6 541.4 1454.3 542.6 1457.2 543.4C1460.1 544.2 1463.7 544.6 1466.6 546.0C1469.4 547.5 1471.7 550.0 1474.6 551.9C1477.4 553.8 1480.8 554.8 1483.9 557.2C1487.0 559.7 1489.9 563.4 1493.2 566.5C1496.5 569.7 1500.8 573.2 1503.9 575.9C1507.0 578.5 1509.0 579.2 1511.9 582.5C1514.7 585.9 1517.9 591.9 1521.2 595.9C1524.5 599.9 1528.7 603.0 1531.8 606.5C1535.0 610.1 1537.2 614.5 1539.8 617.2C1542.5 619.8 1544.9 619.6 1547.8 622.5C1550.7 625.4 1554.5 631.8 1557.2 634.5C1559.8 637.2 1561.2 636.1 1563.8 638.5C1566.5 640.9 1570.0 646.5 1573.1 649.2C1576.3 651.8 1579.8 653.2 1582.5 654.5C1585.1 655.8 1586.7 655.7 1589.1 657.1C1591.6 658.6 1594.2 661.9 1597.1 663.3C1600.0 664.6 1603.8 664.7 1606.5 665.1C1609.1 665.6 1610.2 665.1 1613.1 665.9C1616.0 666.8 1620.9 669.7 1623.8 670.5C1626.7 671.2 1628.0 669.8 1630.4 670.5C1632.9 671.1 1635.8 674.5 1638.4 674.5C1641.1 674.5 1644.0 672.0 1646.4 670.5C1648.9 668.9 1650.9 666.5 1653.1 665.1C1655.3 663.8 1657.7 663.4 1659.7 662.5C1661.7 661.6 1663.1 659.7 1665.1 659.8C1667.1 659.9 1669.3 663.7 1671.7 663.3C1674.2 662.8 1678.6 658.2 1680.0 657.1"/>
<path class="r" d="M962.7 739.8C964.9 738.2 972.0 735.1 976.0 730.4C980.0 725.8 983.1 719.8 986.6 711.8C990.2 703.8 993.8 691.8 997.3 682.5C1000.9 673.1 1004.4 664.7 1008.0 655.8C1011.5 646.9 1015.1 637.8 1018.6 629.2C1022.2 620.5 1025.7 611.8 1029.3 603.9C1032.8 595.9 1036.8 586.8 1039.9 581.2C1043.0 575.7 1044.8 574.3 1047.9 570.5C1051.0 566.8 1055.0 562.8 1058.6 558.6C1062.1 554.3 1065.7 550.1 1069.3 545.2C1072.8 540.3 1076.4 534.4 1079.9 529.2C1083.5 524.1 1087.0 518.8 1090.6 514.6C1094.1 510.4 1097.7 506.4 1101.2 503.9C1104.8 501.5 1108.3 500.6 1111.9 499.9C1115.4 499.3 1119.0 500.0 1122.5 499.9C1126.1 499.8 1129.7 498.7 1133.2 499.4C1136.8 500.1 1140.3 502.3 1143.9 503.9C1147.4 505.6 1151.0 507.4 1154.5 509.3C1158.1 511.1 1161.2 513.6 1165.2 515.1C1169.2 516.7 1174.1 517.3 1178.5 518.6C1182.9 519.8 1187.6 521.7 1191.8 522.6C1196.0 523.5 1200.5 524.6 1203.8 523.9C1207.2 523.2 1209.1 521.0 1211.8 518.6C1214.5 516.1 1217.1 512.1 1219.8 509.3C1222.5 506.4 1224.9 503.0 1227.8 501.3C1230.7 499.6 1234.2 498.5 1237.1 499.1C1240.0 499.8 1242.0 502.2 1245.1 505.3C1248.2 508.3 1252.2 513.3 1255.8 517.3C1259.3 521.2 1262.9 524.8 1266.4 529.2C1270.0 533.7 1274.0 539.2 1277.1 543.9C1280.2 548.6 1282.4 552.8 1285.1 557.2C1287.8 561.7 1290.6 565.2 1293.1 570.5C1295.5 575.9 1298.0 581.6 1299.7 589.2C1301.5 596.7 1302.4 606.1 1303.7 615.8C1305.1 625.6 1306.4 637.6 1307.7 647.8C1309.1 658.0 1310.4 670.0 1311.7 677.1C1313.1 684.2 1314.4 687.4 1315.7 690.5C1317.1 693.5 1318.6 697.0 1320.0 695.3C1321.4 693.5 1322.7 686.8 1324.0 679.8C1325.3 672.8 1326.7 662.9 1328.0 653.2C1329.3 643.4 1330.7 631.4 1332.0 621.2C1333.3 611.0 1334.4 602.1 1336.0 591.9C1337.5 581.6 1339.5 569.2 1341.3 559.9C1343.1 550.6 1344.6 543.0 1346.6 535.9C1348.6 528.8 1351.1 522.4 1353.3 517.3C1355.5 512.1 1357.1 509.3 1360.0 505.3C1362.9 501.3 1367.1 496.8 1370.6 493.3C1374.2 489.7 1377.7 487.1 1381.3 483.9C1384.8 480.8 1388.4 477.5 1391.9 474.6C1395.5 471.7 1399.1 469.3 1402.6 466.6C1406.2 464.0 1409.7 460.9 1413.3 458.6C1416.8 456.3 1420.8 453.9 1423.9 452.8C1427.0 451.7 1429.3 452.7 1431.9 452.0C1434.6 451.3 1437.2 449.2 1439.9 448.5C1442.6 447.8 1445.2 447.2 1447.9 448.0C1450.6 448.8 1453.0 451.1 1455.9 453.3C1458.8 455.5 1462.3 458.9 1465.2 461.3C1468.1 463.7 1470.8 464.6 1473.2 468.0C1475.7 471.3 1477.7 477.5 1479.9 481.3C1482.1 485.1 1484.1 486.4 1486.5 490.6C1489.0 494.8 1491.9 501.7 1494.5 506.6C1497.2 511.5 1499.9 515.7 1502.5 519.9C1505.2 524.1 1507.6 527.2 1510.5 531.9C1513.4 536.6 1516.5 542.3 1519.9 547.9C1523.2 553.4 1527.0 559.7 1530.5 565.2C1534.1 570.8 1537.6 576.3 1541.2 581.2C1544.7 586.1 1548.5 591.9 1551.8 594.5C1555.2 597.2 1558.3 595.0 1561.2 597.2C1564.0 599.4 1566.3 604.7 1569.1 607.9C1572.0 611.0 1575.4 613.0 1578.5 615.8C1581.6 618.7 1584.7 622.3 1587.8 625.2C1590.9 628.1 1594.2 631.4 1597.1 633.2C1600.0 634.9 1602.5 634.7 1605.1 635.8C1607.8 636.9 1610.5 638.7 1613.1 639.8C1615.8 640.9 1618.2 641.7 1621.1 642.5C1624.0 643.3 1627.1 642.9 1630.4 644.6C1633.8 646.3 1638.2 652.3 1641.1 652.6C1644.0 652.9 1645.5 648.0 1647.8 646.5C1650.0 645.0 1652.4 644.0 1654.4 643.8C1656.4 643.6 1657.7 645.4 1659.7 645.2C1661.7 644.9 1664.2 642.7 1666.4 642.5C1668.6 642.3 1670.8 643.8 1673.1 643.8C1675.3 643.8 1678.8 642.7 1680.0 642.5"/>
</g>
<path d="M991.3 745.1V736.4M1129.6 745.1V736.4M1267.8 745.1V736.4M1406.0 745.1V736.4M1544.3 745.1V736.4M1682.5 745.1V736.4M1060.5 745.1V740.5M1198.7 745.1V740.5M1336.9 745.1V740.5M1475.2 745.1V740.5M1613.4 745.1V740.5M963.7 687.0H972.4M963.7 609.1H972.4M963.7 531.2H972.4M963.7 453.3H972.4M963.7 726.0H968.2M963.7 648.0H968.2M963.7 570.2H968.2M963.7 492.3H968.2" stroke="#000" stroke-width="4.7" fill="none"/>
<rect x="963.7" y="414.8" width="718.8" height="330.3" fill="none" stroke="#000" stroke-width="4.7"/>
<path d="M1224.3 413.3V744.1" stroke="#f0f" stroke-width="4.8"/>
<path d="M1320.2 413.3V744.1" stroke="#00f" stroke-width="4.5"/>
<text class="t" x="991.3" y="786.4" font-size="40.6" text-anchor="middle">400</text>
<text class="t" x="1129.6" y="786.4" font-size="40.6" text-anchor="middle">500</text>
<text class="t" x="1267.8" y="786.4" font-size="40.6" text-anchor="middle">600</text>
<text class="t" x="1406.0" y="786.4" font-size="40.6" text-anchor="middle">700</text>
<text class="t" x="1544.3" y="786.4" font-size="40.6" text-anchor="middle">800</text>
<text class="t" x="1682.5" y="786.4" font-size="40.6" text-anchor="middle">900</text>
<text class="t" x="954.4" y="698.8" font-size="40.6" text-anchor="end">0.2</text>
<text class="t" x="954.4" y="620.9" font-size="40.6" text-anchor="end">0.4</text>
<text class="t" x="954.4" y="543.0" font-size="40.6" text-anchor="end">0.6</text>
<text class="t" x="954.4" y="465.1" font-size="40.6" text-anchor="end">0.8</text>
<text class="t" font-size="48" transform="translate(977.61 468.6) scale(1.1000 1)">(d)</text>
<rect x="1514.4" y="425.3" width="158.5" height="93.2" fill="#fff" stroke="#222" stroke-width="1"/>
<path class="k" d="M1519.9 454.8H1571.8" stroke-width="6.4"/>
<path class="r" d="M1519.9 501.7H1571.8" stroke-width="6.4"/>
<text class="s" font-size="34.5" stroke="#000" stroke-width="0.45"><tspan font-style="italic" x="1580.76" y="462.7" textLength="21.05" lengthAdjust="spacingAndGlyphs">θ</tspan><tspan x="1596.22" y="465.1" textLength="21.23" lengthAdjust="spacingAndGlyphs">=</tspan><tspan x="1616.42" y="462.7" textLength="17.53" lengthAdjust="spacingAndGlyphs">6</tspan><tspan x="1634.02" y="462.7" textLength="14.27" lengthAdjust="spacingAndGlyphs">°</tspan></text>
<text class="s" font-size="34.5" stroke="#000" stroke-width="0.45"><tspan font-style="italic" x="1584.96" y="509.8" textLength="21.05" lengthAdjust="spacingAndGlyphs">θ</tspan><tspan x="1600.47" y="512.2" textLength="20.62" lengthAdjust="spacingAndGlyphs">=</tspan><tspan x="1619.22" y="512.2" textLength="21.23" lengthAdjust="spacingAndGlyphs">−</tspan><tspan x="1639.42" y="509.8" textLength="17.53" lengthAdjust="spacingAndGlyphs">6</tspan><tspan x="1657.02" y="509.8" textLength="14.27" lengthAdjust="spacingAndGlyphs">°</tspan></text>
</g>
</g>
<g id="panel-e">
<clipPath id="cpe"><rect x="134.6" y="829.2" width="718.8" height="329.5"/></clipPath>
<g clip-path="url(#cpe)" stroke-width="5.8">
<path class="k" d="M134.0 1154.4C135.6 1152.0 140.0 1145.8 143.3 1139.8C146.7 1133.8 150.4 1126.0 154.0 1118.4C157.5 1110.9 161.5 1102.0 164.6 1094.5C167.7 1086.9 170.0 1080.7 172.6 1073.1C175.3 1065.6 178.0 1057.2 180.6 1049.2C183.3 1041.2 186.0 1033.2 188.6 1025.2C191.3 1017.2 193.5 1009.6 196.6 1001.2C199.7 992.8 203.7 982.5 207.3 974.6C210.8 966.6 214.4 959.5 217.9 953.2C221.5 947.0 225.0 942.8 228.6 937.2C232.1 931.7 235.7 925.3 239.3 919.9C242.8 914.6 246.4 910.8 249.9 905.3C253.5 899.7 257.5 891.7 260.6 886.6C263.7 881.5 265.5 878.4 268.6 874.6C271.7 870.9 275.7 867.1 279.2 864.0C282.8 860.9 286.8 857.9 289.9 856.0C293.0 854.1 294.8 853.0 297.9 852.5C301.0 852.1 305.4 853.3 308.5 853.3C311.6 853.3 314.3 853.0 316.5 852.5C318.7 852.1 320.3 850.1 321.9 850.6C323.4 851.2 324.5 851.8 325.9 856.0C327.2 860.2 328.3 867.3 329.9 876.0C331.4 884.6 333.2 895.9 335.2 907.9C337.2 919.9 339.6 935.0 341.8 947.9C344.1 960.8 346.1 971.9 348.5 985.2C350.9 998.5 354.1 1015.4 356.5 1027.8C358.9 1040.3 361.2 1050.9 363.2 1059.8C365.2 1068.7 366.9 1075.8 368.5 1081.1C370.0 1086.5 371.2 1089.8 372.5 1091.8C373.8 1093.8 375.2 1094.5 376.5 1093.1C377.8 1091.8 379.1 1088.5 380.5 1083.8C381.8 1079.1 382.9 1073.6 384.5 1065.2C386.0 1056.7 388.0 1045.2 389.8 1033.2C391.6 1021.2 393.4 1006.1 395.1 993.2C396.9 980.3 398.7 966.6 400.5 955.9C402.2 945.2 404.0 936.1 405.8 929.3C407.6 922.4 409.1 918.2 411.1 914.6C413.1 911.0 415.8 909.0 417.8 907.4C419.8 905.8 421.3 905.2 423.1 905.3C424.9 905.4 426.7 906.6 428.4 907.9C430.2 909.3 431.1 911.0 433.8 913.3C436.4 915.5 440.9 918.1 444.4 921.3C448.0 924.4 451.8 928.8 455.1 931.9C458.4 935.0 461.8 936.4 464.4 939.9C467.1 943.5 469.1 949.0 471.1 953.2C473.1 957.5 474.9 963.0 476.4 965.2C478.0 967.4 479.2 968.6 480.4 966.6C481.7 964.6 482.8 960.8 483.9 953.2C485.0 945.7 486.0 930.1 487.1 921.3C488.1 912.4 489.1 907.9 490.0 899.9C490.9 891.9 491.7 880.4 492.7 873.3C493.6 866.2 494.6 860.9 495.9 857.3C497.1 853.8 498.8 851.8 500.1 852.0C501.5 852.2 502.4 853.8 503.9 858.6C505.3 863.5 507.0 873.1 508.7 881.3C510.3 889.5 512.2 899.9 514.0 907.9C515.8 915.9 517.5 923.0 519.3 929.3C521.1 935.5 522.6 940.4 524.6 945.2C526.6 950.1 528.9 954.8 531.3 958.6C533.7 962.3 536.4 965.7 539.3 967.9C542.2 970.1 545.3 970.9 548.6 971.9C552.0 972.9 555.7 973.3 559.3 973.8C562.8 974.2 566.8 975.5 569.9 974.6C573.0 973.6 574.8 969.4 577.9 967.9C581.0 966.3 585.3 965.8 588.6 965.2C591.9 964.6 594.8 965.4 597.9 964.4C601.0 963.4 603.9 960.3 607.2 959.1C610.6 957.9 614.6 958.0 617.9 957.2C621.2 956.5 624.3 954.4 627.2 954.6C630.1 954.7 632.3 956.9 635.2 958.0C638.1 959.1 641.2 959.7 644.6 961.2C647.9 962.8 652.1 965.1 655.2 967.4C658.3 969.6 660.1 972.2 663.2 974.6C666.3 976.9 670.5 978.5 673.9 981.2C677.2 983.9 680.1 986.8 683.2 990.5C686.3 994.3 689.2 999.9 692.5 1003.9C695.8 1007.9 700.1 1010.7 703.2 1014.5C706.3 1018.3 708.1 1023.2 711.2 1026.5C714.3 1029.8 718.7 1031.2 721.8 1034.5C724.9 1037.8 727.4 1044.3 729.8 1046.5C732.3 1048.7 734.0 1046.1 736.5 1047.8C738.9 1049.5 741.6 1054.4 744.5 1056.6C747.4 1058.8 750.9 1059.7 753.8 1061.2C756.7 1062.6 759.1 1063.4 761.8 1065.2C764.5 1066.9 767.4 1070.0 769.8 1071.8C772.2 1073.6 774.2 1075.2 776.5 1075.8C778.7 1076.4 780.7 1074.9 783.1 1075.3C785.6 1075.6 788.7 1077.0 791.1 1077.9C793.6 1078.9 795.8 1080.8 797.8 1081.1C799.8 1081.5 800.9 1079.3 803.1 1079.8C805.3 1080.3 808.7 1083.8 811.1 1084.3C813.5 1084.9 815.5 1084.7 817.8 1083.3C820.0 1081.9 822.2 1077.5 824.4 1075.8C826.6 1074.1 828.9 1074.1 831.1 1073.1C833.3 1072.2 835.5 1070.5 837.7 1069.9C840.0 1069.4 842.4 1070.7 844.4 1069.9C846.4 1069.1 849.1 1066.0 850.0 1065.2"/>
<path class="r" d="M134.0 1156.3C135.6 1155.3 140.0 1153.4 143.3 1150.4C146.7 1147.4 150.4 1144.2 154.0 1138.4C157.5 1132.7 161.1 1124.0 164.6 1115.8C168.2 1107.6 171.7 1098.0 175.3 1089.1C178.9 1080.3 182.4 1071.4 186.0 1062.5C189.5 1053.6 192.6 1045.2 196.6 1035.8C200.6 1026.5 205.7 1014.5 209.9 1006.5C214.2 998.5 217.9 993.6 221.9 987.9C225.9 982.1 229.7 977.4 233.9 971.9C238.1 966.3 243.2 959.5 247.2 954.6C251.2 949.7 254.8 946.4 257.9 942.6C261.0 938.8 263.2 934.7 265.9 931.9C268.6 929.2 271.0 927.6 273.9 926.1C276.8 924.5 279.7 923.0 283.2 922.6C286.8 922.1 291.4 922.5 295.2 923.4C299.0 924.3 301.9 926.4 305.9 927.9C309.9 929.4 314.8 931.0 319.2 932.5C323.6 933.9 328.1 935.9 332.5 936.7C337.0 937.5 341.8 937.8 345.8 937.2C349.8 936.7 352.9 935.2 356.5 933.2C360.1 931.3 364.0 927.3 367.2 925.3C370.3 923.3 372.3 922.0 375.2 921.3C378.0 920.5 381.4 920.3 384.5 920.7C387.6 921.2 390.0 922.5 393.8 923.9C397.6 925.3 402.7 926.6 407.1 929.3C411.6 931.9 416.0 936.1 420.5 939.9C424.9 943.7 429.8 948.6 433.8 951.9C437.8 955.2 440.9 957.2 444.4 959.9C448.0 962.6 451.5 964.8 455.1 967.9C458.6 971.0 462.2 974.6 465.8 978.5C469.3 982.5 473.1 987.7 476.4 991.9C479.7 996.1 483.5 1000.8 485.7 1003.9C488.0 1007.0 488.4 1007.4 490.0 1010.5C491.6 1013.6 493.8 1018.7 495.3 1022.5C496.9 1026.3 498.2 1028.3 499.3 1033.2C500.4 1038.1 501.1 1044.7 502.0 1051.8C502.9 1058.9 503.8 1068.7 504.7 1075.8C505.5 1082.9 506.3 1089.1 507.3 1094.5C508.3 1099.8 509.7 1105.1 510.8 1107.8C511.9 1110.5 512.9 1110.9 514.0 1110.5C515.0 1110.0 516.1 1109.1 517.2 1105.1C518.3 1101.1 519.4 1094.0 520.6 1086.5C521.9 1078.9 523.1 1069.6 524.6 1059.8C526.2 1050.1 528.2 1038.1 530.0 1027.8C531.7 1017.6 533.3 1008.3 535.3 998.5C537.3 988.8 539.5 979.0 542.0 969.2C544.4 959.5 547.3 947.5 550.0 939.9C552.6 932.4 555.1 929.0 557.9 923.9C560.8 918.8 564.4 913.7 567.3 909.3C570.2 904.8 572.6 901.3 575.3 897.3C577.9 893.3 580.4 888.9 583.3 885.3C586.2 881.6 589.5 878.1 592.6 875.4C595.7 872.8 598.8 871.7 601.9 869.3C605.0 866.9 608.4 862.9 611.2 861.3C614.1 859.7 616.8 859.6 619.2 859.4C621.7 859.3 623.5 859.3 625.9 860.5C628.3 861.7 631.2 864.9 633.9 866.6C636.6 868.4 639.2 868.1 641.9 871.2C644.6 874.3 647.2 880.9 649.9 885.3C652.5 889.6 655.2 892.8 657.9 897.3C660.5 901.7 663.2 907.3 665.9 911.9C668.5 916.6 671.2 921.0 673.9 925.3C676.5 929.5 679.0 932.4 681.9 937.2C684.7 942.1 688.1 949.2 691.2 954.6C694.3 959.9 697.2 963.9 700.5 969.2C703.8 974.6 707.6 981.4 711.2 986.5C714.7 991.7 718.7 996.3 721.8 999.9C724.9 1003.4 727.2 1005.4 729.8 1007.9C732.5 1010.3 735.2 1011.9 737.8 1014.5C740.5 1017.2 742.7 1020.7 745.8 1023.8C748.9 1027.0 752.9 1030.1 756.5 1033.2C760.0 1036.3 763.8 1039.9 767.1 1042.5C770.5 1045.1 773.6 1046.6 776.5 1048.6C779.3 1050.6 781.8 1053.2 784.4 1054.5C787.1 1055.8 789.8 1055.8 792.4 1056.6C795.1 1057.4 797.8 1057.9 800.4 1059.3C803.1 1060.7 806.2 1064.0 808.4 1065.2C810.7 1066.4 811.8 1066.8 813.8 1066.5C815.8 1066.1 818.2 1063.8 820.4 1063.0C822.6 1062.3 824.9 1062.5 827.1 1062.0C829.3 1061.4 831.3 1060.0 833.7 1059.8C836.2 1059.7 839.0 1061.2 841.7 1061.2C844.4 1061.2 848.6 1060.0 850.0 1059.8"/>
</g>
<path d="M162.2 1158.7V1150.0M300.5 1158.7V1150.0M438.7 1158.7V1150.0M576.9 1158.7V1150.0M715.2 1158.7V1150.0M853.4 1158.7V1150.0M231.4 1158.7V1154.1M369.6 1158.7V1154.1M507.8 1158.7V1154.1M646.1 1158.7V1154.1M784.3 1158.7V1154.1M134.6 1093.2H143.3M134.6 1005.2H143.3M134.6 917.2H143.3M134.6 1137.2H139.1M134.6 1049.2H139.1M134.6 961.2H139.1M134.6 871.4H139.1" stroke="#000" stroke-width="4.7" fill="none"/>
<rect x="134.6" y="829.2" width="718.8" height="329.5" fill="none" stroke="#000" stroke-width="4.7"/>
<path d="M374.7 827.7V1157.7" stroke="#f0f" stroke-width="4.8"/>
<path d="M515.7 827.7V1157.7" stroke="#00f" stroke-width="4.5"/>
<text class="t" x="162.2" y="1200.0" font-size="40.6" text-anchor="middle">400</text>
<text class="t" x="300.5" y="1200.0" font-size="40.6" text-anchor="middle">500</text>
<text class="t" x="438.7" y="1200.0" font-size="40.6" text-anchor="middle">600</text>
<text class="t" x="576.9" y="1200.0" font-size="40.6" text-anchor="middle">700</text>
<text class="t" x="715.2" y="1200.0" font-size="40.6" text-anchor="middle">800</text>
<text class="t" x="853.4" y="1200.0" font-size="40.6" text-anchor="middle">900</text>
<text class="t" x="125.3" y="1105.0" font-size="40.6" text-anchor="end">0.2</text>
<text class="t" x="125.3" y="1017.0" font-size="40.6" text-anchor="end">0.4</text>
<text class="t" x="125.3" y="929.0" font-size="40.6" text-anchor="end">0.6</text>
<text class="t" x="125.3" y="841.0" font-size="40.6" text-anchor="end">0.8</text>
<text class="t" font-size="48" transform="translate(149.58 880.5) scale(1.0741 1)">(e)</text>
<rect x="686.3" y="837.0" width="159.5" height="100.2" fill="#fff" stroke="#222" stroke-width="1"/>
<path class="k" d="M690.9 869.9H738.2" stroke-width="6.4"/>
<path class="r" d="M690.9 920.9H738.2" stroke-width="6.4"/>
<text class="s" font-size="36.5" stroke="#000" stroke-width="0.45"><tspan font-style="italic" x="746.67" y="877.2" textLength="22.93" lengthAdjust="spacingAndGlyphs">θ</tspan><tspan x="763.70" y="879.6" textLength="22.56" lengthAdjust="spacingAndGlyphs">=</tspan><tspan x="785.73" y="877.2" textLength="18.33" lengthAdjust="spacingAndGlyphs">8</tspan><tspan x="804.90" y="877.2" textLength="13.60" lengthAdjust="spacingAndGlyphs">°</tspan></text>
<text class="s" font-size="36.5" stroke="#000" stroke-width="0.45"><tspan font-style="italic" x="751.87" y="927.8" textLength="22.93" lengthAdjust="spacingAndGlyphs">θ</tspan><tspan x="769.00" y="930.2" textLength="22.56" lengthAdjust="spacingAndGlyphs">=</tspan><tspan x="789.35" y="930.2" textLength="23.17" lengthAdjust="spacingAndGlyphs">−</tspan><tspan x="812.43" y="927.8" textLength="18.33" lengthAdjust="spacingAndGlyphs">8</tspan><tspan x="831.10" y="927.8" textLength="13.60" lengthAdjust="spacingAndGlyphs">°</tspan></text>
</g>
</g>
<g id="panel-f">
<clipPath id="cpf"><rect x="965.0" y="826.9" width="718.6" height="330.4"/></clipPath>
<g clip-path="url(#cpf)" stroke-width="5.8">
<path class="k" d="M964.0 1153.1C965.6 1150.9 970.0 1145.1 973.3 1139.8C976.7 1134.4 980.9 1127.8 984.0 1121.1C987.1 1114.4 989.3 1107.3 992.0 1099.8C994.6 1092.2 997.3 1083.4 1000.0 1075.8C1002.6 1068.3 1005.3 1061.6 1008.0 1054.5C1010.6 1047.4 1013.1 1040.7 1016.0 1033.2C1018.8 1025.6 1022.2 1016.3 1025.3 1009.2C1028.4 1002.1 1031.3 996.8 1034.6 990.5C1037.9 984.3 1041.7 978.1 1045.3 971.9C1048.8 965.7 1052.4 959.5 1055.9 953.2C1059.5 947.0 1063.0 940.8 1066.6 934.6C1070.1 928.4 1073.7 922.1 1077.2 915.9C1080.8 909.7 1084.4 903.0 1087.9 897.3C1091.5 891.5 1095.0 886.2 1098.6 881.3C1102.1 876.4 1105.9 872.0 1109.2 868.0C1112.6 864.0 1116.1 859.9 1118.5 857.3C1121.0 854.7 1122.3 853.0 1123.9 852.5C1125.4 852.0 1126.5 852.0 1127.9 854.1C1129.2 856.2 1130.3 859.0 1131.9 865.3C1133.4 871.6 1135.2 881.7 1137.2 891.9C1139.2 902.2 1141.4 913.7 1143.9 926.6C1146.3 939.5 1149.2 955.0 1151.9 969.2C1154.5 983.4 1157.2 998.5 1159.9 1011.9C1162.5 1025.2 1165.4 1038.9 1167.8 1049.2C1170.3 1059.4 1172.5 1067.4 1174.5 1073.1C1176.5 1078.9 1178.3 1081.8 1179.8 1083.8C1181.4 1085.8 1182.3 1085.6 1183.8 1085.1C1185.4 1084.7 1187.4 1084.5 1189.2 1081.1C1190.9 1077.8 1192.7 1072.3 1194.5 1065.2C1196.3 1058.0 1198.0 1048.3 1199.8 1038.5C1201.6 1028.7 1203.4 1016.3 1205.2 1006.5C1206.9 996.8 1208.7 987.4 1210.5 979.9C1212.3 972.3 1213.8 966.1 1215.8 961.2C1217.8 956.3 1220.3 952.9 1222.5 950.6C1224.7 948.3 1226.7 947.7 1229.1 947.4C1231.6 947.0 1234.2 947.0 1237.1 948.4C1240.0 949.9 1243.3 953.3 1246.5 955.9C1249.6 958.5 1252.5 961.2 1255.8 963.9C1259.1 966.6 1262.4 969.4 1266.4 971.9C1270.4 974.3 1275.3 976.7 1279.8 978.5C1284.2 980.4 1289.5 981.3 1293.1 983.1C1296.6 984.9 1298.0 987.7 1301.1 989.2C1304.2 990.7 1308.6 991.0 1311.7 991.9C1314.9 992.8 1317.5 994.8 1320.0 994.5C1322.5 994.3 1324.7 990.9 1326.7 990.5C1328.7 990.2 1330.4 993.1 1332.0 992.7C1333.5 992.2 1334.8 991.8 1336.0 987.9C1337.2 984.0 1338.1 976.3 1339.2 969.2C1340.3 962.1 1341.5 951.9 1342.6 945.2C1343.8 938.6 1345.0 932.5 1346.1 929.3C1347.2 926.1 1348.2 925.6 1349.3 926.1C1350.4 926.5 1351.2 926.9 1352.5 931.9C1353.8 936.9 1355.6 947.9 1357.3 955.9C1359.0 963.9 1360.6 972.8 1362.6 979.9C1364.6 987.0 1366.9 993.2 1369.3 998.5C1371.7 1003.9 1374.4 1008.5 1377.3 1011.9C1380.2 1015.2 1382.8 1017.1 1386.6 1018.5C1390.4 1019.9 1395.9 1020.8 1399.9 1020.4C1403.9 1019.9 1406.8 1017.5 1410.6 1015.9C1414.4 1014.2 1419.5 1011.3 1422.6 1010.5C1425.7 1009.8 1426.8 1012.0 1429.3 1011.3C1431.7 1010.7 1434.1 1007.9 1437.2 1006.5C1440.4 1005.2 1444.4 1004.2 1447.9 1003.3C1451.5 1002.4 1455.7 1001.2 1458.6 1001.2C1461.5 1001.2 1462.3 1002.9 1465.2 1003.3C1468.1 1003.8 1472.6 1003.3 1475.9 1003.9C1479.2 1004.4 1481.9 1005.2 1485.2 1006.5C1488.5 1007.9 1492.3 1010.3 1495.9 1011.9C1499.4 1013.4 1503.2 1014.3 1506.5 1015.9C1509.9 1017.4 1512.7 1018.3 1515.9 1021.2C1519.0 1024.1 1522.3 1030.5 1525.2 1033.2C1528.1 1035.8 1530.5 1034.5 1533.2 1037.2C1535.8 1039.8 1538.5 1046.7 1541.2 1049.2C1543.8 1051.6 1546.5 1050.1 1549.2 1051.8C1551.8 1053.6 1555.2 1057.6 1557.2 1059.8C1559.2 1062.0 1559.4 1064.5 1561.2 1065.2C1562.9 1065.8 1565.4 1062.7 1567.8 1063.8C1570.3 1064.9 1572.9 1069.6 1575.8 1071.8C1578.7 1074.0 1582.0 1075.4 1585.1 1077.1C1588.2 1078.9 1591.4 1080.7 1594.5 1082.5C1597.6 1084.2 1600.7 1086.7 1603.8 1087.8C1606.9 1088.9 1610.0 1088.2 1613.1 1089.1C1616.2 1090.0 1620.0 1092.2 1622.4 1093.1C1624.9 1094.0 1625.8 1094.5 1627.8 1094.5C1629.8 1094.5 1632.4 1092.7 1634.4 1093.1C1636.4 1093.6 1637.3 1096.9 1639.8 1097.1C1642.2 1097.4 1646.6 1096.0 1649.1 1094.5C1651.5 1092.9 1652.4 1089.2 1654.4 1087.8C1656.4 1086.4 1659.1 1086.8 1661.1 1085.9C1663.1 1085.0 1664.4 1082.9 1666.4 1082.5C1668.4 1082.0 1670.8 1083.9 1673.1 1083.3C1675.3 1082.6 1678.8 1079.3 1680.0 1078.5"/>
<path class="r" d="M964.0 1156.3C965.6 1155.3 970.0 1153.4 973.3 1150.4C976.7 1147.4 980.9 1142.9 984.0 1138.4C987.1 1134.0 988.9 1130.7 992.0 1123.8C995.1 1116.9 999.1 1105.6 1002.6 1097.1C1006.2 1088.7 1009.7 1080.7 1013.3 1073.1C1016.8 1065.6 1020.4 1058.9 1024.0 1051.8C1027.5 1044.7 1031.5 1036.5 1034.6 1030.5C1037.7 1024.5 1039.9 1020.3 1042.6 1015.9C1045.3 1011.4 1047.7 1007.4 1050.6 1003.9C1053.5 1000.3 1056.8 998.3 1059.9 994.5C1063.0 990.8 1065.9 985.9 1069.3 981.2C1072.6 976.6 1076.8 971.0 1079.9 966.6C1083.0 962.1 1085.5 958.0 1087.9 954.6C1090.3 951.1 1092.1 947.8 1094.6 945.8C1097.0 943.8 1099.7 943.5 1102.6 942.6C1105.4 941.7 1108.6 940.4 1111.9 940.4C1115.2 940.4 1119.0 942.2 1122.5 942.6C1126.1 942.9 1129.2 942.1 1133.2 942.6C1137.2 943.0 1142.3 944.7 1146.5 945.2C1150.7 945.8 1155.0 946.2 1158.5 945.8C1162.1 945.3 1165.0 944.4 1167.8 942.6C1170.7 940.7 1173.0 937.0 1175.8 934.6C1178.7 932.1 1182.3 929.7 1185.2 927.9C1188.1 926.1 1190.7 924.7 1193.2 923.9C1195.6 923.2 1197.4 922.9 1199.8 923.4C1202.3 923.8 1204.7 924.7 1207.8 926.6C1210.9 928.5 1214.9 931.9 1218.5 934.6C1222.0 937.2 1225.6 940.1 1229.1 942.6C1232.7 945.0 1235.8 946.4 1239.8 949.2C1243.8 952.1 1248.7 956.3 1253.1 959.9C1257.6 963.4 1262.0 967.4 1266.4 970.6C1270.9 973.7 1275.3 975.9 1279.8 978.5C1284.2 981.2 1289.1 983.9 1293.1 986.5C1297.1 989.2 1300.6 992.1 1303.7 994.5C1306.9 997.0 1309.0 999.4 1311.7 1001.2C1314.4 1003.0 1317.3 1003.6 1320.0 1005.2C1322.7 1006.8 1325.3 1008.3 1328.0 1010.5C1330.7 1012.7 1333.3 1015.6 1336.0 1018.5C1338.7 1021.4 1341.5 1024.1 1344.0 1027.8C1346.4 1031.6 1348.6 1035.8 1350.6 1041.2C1352.6 1046.5 1354.4 1052.7 1356.0 1059.8C1357.5 1066.9 1358.8 1076.7 1360.0 1083.8C1361.2 1090.9 1362.2 1098.4 1363.2 1102.5C1364.1 1106.5 1364.8 1108.8 1365.8 1108.3C1366.9 1107.9 1368.1 1105.2 1369.3 1099.8C1370.5 1094.4 1371.7 1085.1 1373.3 1075.8C1374.8 1066.5 1376.6 1054.9 1378.6 1043.8C1380.6 1032.7 1382.6 1020.7 1385.3 1009.2C1387.9 997.6 1391.3 985.2 1394.6 974.6C1397.9 963.9 1401.7 954.1 1405.3 945.2C1408.8 936.4 1412.4 928.1 1415.9 921.3C1419.5 914.4 1423.0 909.5 1426.6 903.9C1430.1 898.4 1433.7 892.8 1437.2 887.9C1440.8 883.1 1444.8 877.5 1447.9 874.6C1451.0 871.7 1453.0 870.9 1455.9 870.6C1458.8 870.4 1462.3 872.4 1465.2 873.3C1468.1 874.2 1470.6 873.7 1473.2 876.0C1475.9 878.2 1478.5 882.8 1481.2 886.6C1483.9 890.4 1486.8 894.4 1489.2 898.6C1491.7 902.8 1493.4 907.5 1495.9 911.9C1498.3 916.4 1501.2 920.8 1503.9 925.3C1506.5 929.7 1509.2 933.9 1511.9 938.6C1514.5 943.2 1516.7 947.7 1519.9 953.2C1523.0 958.8 1527.0 966.1 1530.5 971.9C1534.1 977.7 1537.6 982.5 1541.2 987.9C1544.7 993.2 1548.3 999.4 1551.8 1003.9C1555.4 1008.3 1558.9 1010.7 1562.5 1014.5C1566.0 1018.3 1569.6 1023.0 1573.1 1026.5C1576.7 1030.1 1580.3 1033.0 1583.8 1035.8C1587.4 1038.7 1590.9 1041.4 1594.5 1043.8C1598.0 1046.3 1601.6 1048.5 1605.1 1050.5C1608.7 1052.5 1612.2 1054.4 1615.8 1055.8C1619.3 1057.3 1623.3 1058.2 1626.4 1059.3C1629.5 1060.4 1631.5 1061.1 1634.4 1062.5C1637.3 1063.9 1640.9 1067.6 1643.8 1067.8C1646.6 1068.0 1649.1 1064.7 1651.8 1063.8C1654.4 1062.9 1657.5 1062.9 1659.7 1062.5C1662.0 1062.0 1663.1 1060.9 1665.1 1061.2C1667.1 1061.4 1669.3 1063.4 1671.7 1063.8C1674.2 1064.3 1678.6 1063.8 1680.0 1063.8"/>
</g>
<path d="M992.6 1157.3V1148.6M1130.8 1157.3V1148.6M1269.0 1157.3V1148.6M1407.2 1157.3V1148.6M1545.4 1157.3V1148.6M1683.6 1157.3V1148.6M1061.7 1157.3V1152.7M1199.9 1157.3V1152.7M1338.1 1157.3V1152.7M1476.3 1157.3V1152.7M1614.5 1157.3V1152.7M965.0 1098.8H973.7M965.0 1020.9H973.7M965.0 943.0H973.7M965.0 865.1H973.7M965.0 1137.8H969.5M965.0 1059.8H969.5M965.0 982.0H969.5M965.0 904.1H969.5" stroke="#000" stroke-width="4.7" fill="none"/>
<rect x="965.0" y="826.9" width="718.6" height="330.4" fill="none" stroke="#000" stroke-width="4.7"/>
<path d="M1183.8 825.4V1156.3" stroke="#f0f" stroke-width="4.8"/>
<path d="M1364.1 825.4V1156.3" stroke="#00f" stroke-width="4.5"/>
<text class="t" x="992.6" y="1198.6" font-size="40.6" text-anchor="middle">400</text>
<text class="t" x="1130.8" y="1198.6" font-size="40.6" text-anchor="middle">500</text>
<text class="t" x="1269.0" y="1198.6" font-size="40.6" text-anchor="middle">600</text>
<text class="t" x="1407.2" y="1198.6" font-size="40.6" text-anchor="middle">700</text>
<text class="t" x="1545.4" y="1198.6" font-size="40.6" text-anchor="middle">800</text>
<text class="t" x="1683.6" y="1198.6" font-size="40.6" text-anchor="middle">900</text>
<text class="t" x="955.7" y="1110.6" font-size="40.6" text-anchor="end">0.2</text>
<text class="t" x="955.7" y="1032.7" font-size="40.6" text-anchor="end">0.4</text>
<text class="t" x="955.7" y="954.8" font-size="40.6" text-anchor="end">0.6</text>
<text class="t" x="955.7" y="876.9" font-size="40.6" text-anchor="end">0.8</text>
<text class="t" font-size="48" transform="translate(977.47 879.1) scale(1.1628 1)">(f)</text>
<path class="k" d="M1507.6 859.0H1554.6" stroke-width="6.4"/>
<path class="r" d="M1507.6 909.8H1554.6" stroke-width="6.4"/>
<text class="s" font-size="37.0" stroke="#000" stroke-width="0.45"><tspan font-style="italic" x="1567.43" y="866.7" textLength="23.28" lengthAdjust="spacingAndGlyphs">θ</tspan><tspan x="1584.55" y="869.1" textLength="23.17" lengthAdjust="spacingAndGlyphs">=</tspan><tspan x="1608.41" y="866.7" textLength="13.86" lengthAdjust="spacingAndGlyphs">1</tspan><tspan x="1623.14" y="866.7" textLength="20.71" lengthAdjust="spacingAndGlyphs">0</tspan><tspan x="1644.58" y="866.7" textLength="13.73" lengthAdjust="spacingAndGlyphs">°</tspan></text>
<text class="s" font-size="37.0" stroke="#000" stroke-width="0.45"><tspan font-style="italic" x="1568.70" y="917.3" textLength="23.63" lengthAdjust="spacingAndGlyphs">θ</tspan><tspan x="1585.65" y="919.7" textLength="23.17" lengthAdjust="spacingAndGlyphs">=</tspan><tspan x="1606.42" y="919.7" textLength="23.41" lengthAdjust="spacingAndGlyphs">−</tspan><tspan x="1631.11" y="917.3" textLength="13.86" lengthAdjust="spacingAndGlyphs">1</tspan><tspan x="1645.52" y="917.3" textLength="20.95" lengthAdjust="spacingAndGlyphs">0</tspan><tspan x="1666.68" y="917.3" textLength="13.73" lengthAdjust="spacingAndGlyphs">°</tspan></text>
</g>
</g>
<text class="t" font-size="41.5" text-anchor="middle" textLength="302.3" lengthAdjust="spacingAndGlyphs" transform="translate(37.0 165.9) rotate(-90)">Extinction (OD)</text>
<text class="t" font-size="41.5" text-anchor="middle" textLength="302.3" lengthAdjust="spacingAndGlyphs" transform="translate(34.1 559.6) rotate(-90)">Extinction (OD)</text>
<text class="t" font-size="41.5" text-anchor="middle" textLength="302.3" lengthAdjust="spacingAndGlyphs" transform="translate(37.0 969.8) rotate(-90)">Extinction (OD)</text>
<text class="t" font-size="40.6" text-anchor="middle" x="508.9" y="1264.4">Wavelength (nm)</text>
<text class="t" font-size="40.6" text-anchor="middle" x="1324.6" y="1264.4">Wavelength (nm)</text>
</svg></body></html>
